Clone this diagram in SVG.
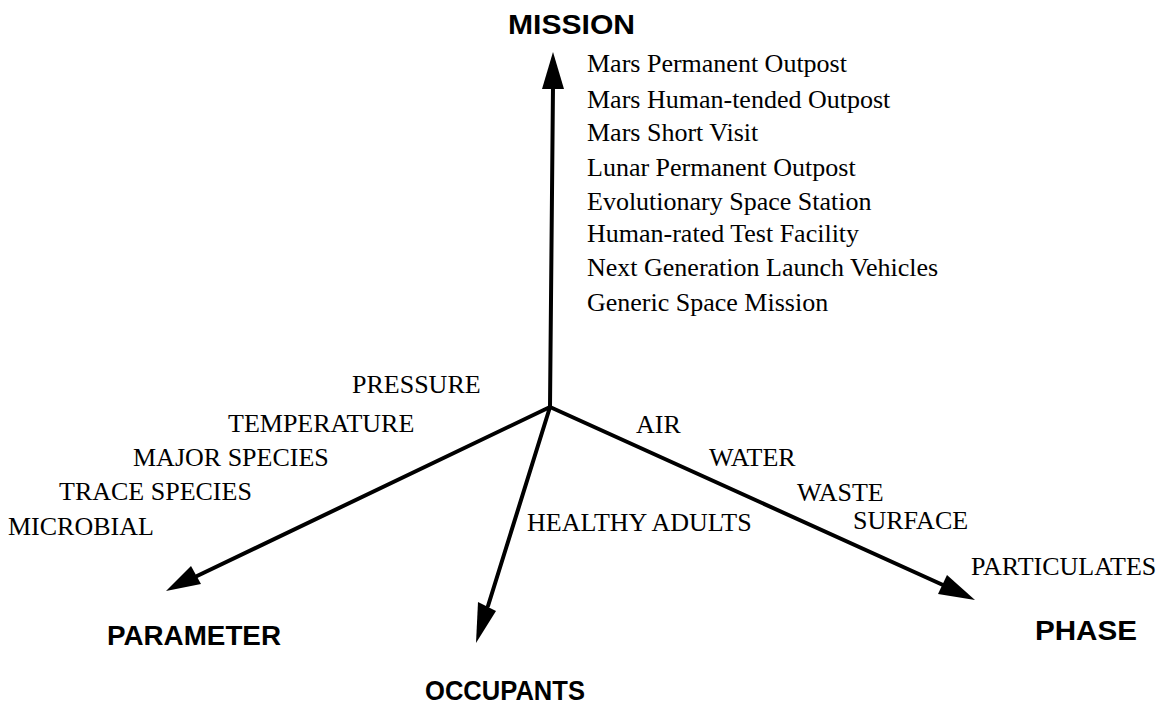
<svg xmlns="http://www.w3.org/2000/svg" width="1167" height="704" viewBox="0 0 1167 704">
<style>
.axis{stroke:#000;stroke-width:4;fill:none;stroke-linecap:round}
.head{fill:#000;stroke:none}
.title{font-family:"Liberation Sans",Arial,sans-serif;font-weight:bold;font-size:27px;fill:#000}
.item{font-family:"Liberation Serif","Times New Roman",serif;font-size:26px;fill:#000}
</style>
<rect width="1167" height="704" fill="#fff"/>
<g id="connectors">
<line class="axis" x1="550" y1="407" x2="553" y2="86"/>
<polygon class="head" points="553,52 542,89 564,89"/>
<line class="axis" x1="550" y1="407" x2="197" y2="576"/>
<polygon class="head" points="166,591 191,566 201,584"/>
<line class="axis" x1="550" y1="407" x2="488" y2="606"/>
<polygon class="head" points="476,643 478,602 496,611"/>
<line class="axis" x1="550" y1="407" x2="943" y2="585"/>
<polygon class="head" points="975,600 947,575 938,594"/>
</g>
<g id="mission">
<text class="title" x="508" y="34" textLength="127" lengthAdjust="spacingAndGlyphs">MISSION</text>
<text class="item" x="587" y="72">Mars Permanent Outpost</text>
<text class="item" x="587" y="108">Mars Human-tended Outpost</text>
<text class="item" x="587" y="141">Mars Short Visit</text>
<text class="item" x="587" y="176">Lunar Permanent Outpost</text>
<text class="item" x="587" y="210">Evolutionary Space Station</text>
<text class="item" x="587" y="242">Human-rated Test Facility</text>
<text class="item" x="587" y="276">Next Generation Launch Vehicles</text>
<text class="item" x="587" y="311">Generic Space Mission</text>
</g>
<g id="parameter">
<text class="title" x="107" y="645" textLength="174" lengthAdjust="spacingAndGlyphs">PARAMETER</text>
<text class="item" x="352" y="393">PRESSURE</text>
<text class="item" x="228" y="432">TEMPERATURE</text>
<text class="item" x="133" y="466">MAJOR SPECIES</text>
<text class="item" x="59" y="500">TRACE SPECIES</text>
<text class="item" x="8" y="535">MICROBIAL</text>
</g>
<g id="occupants">
<text class="title" x="425" y="700" textLength="160" lengthAdjust="spacingAndGlyphs">OCCUPANTS</text>
<text class="item" x="527" y="531">HEALTHY ADULTS</text>
</g>
<g id="phase">
<text class="title" x="1035" y="640" textLength="102" lengthAdjust="spacingAndGlyphs">PHASE</text>
<text class="item" x="636" y="433">AIR</text>
<text class="item" x="709" y="466">WATER</text>
<text class="item" x="797" y="501">WASTE</text>
<text class="item" x="853" y="529">SURFACE</text>
<text class="item" x="971" y="575">PARTICULATES</text>
</g>
</svg>
